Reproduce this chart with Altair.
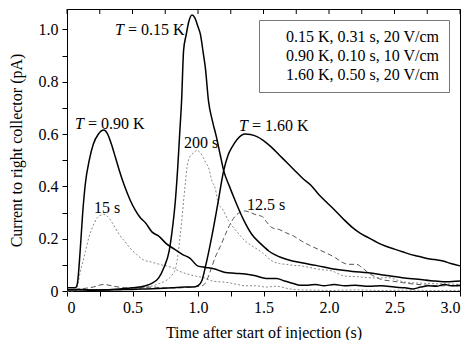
import altair as alt
import pandas as pd

FONT = "Liberation Serif"

legend_labels = ["0.15 K, 0.31 s, 20 V/cm", "0.90 K, 0.10 s, 10 V/cm", "1.60 K, 0.50 s, 20 V/cm"]

# T = 0.15 K (solid)
t_015 = [0.0, 0.1, 0.2, 0.3, 0.4, 0.5, 0.6, 0.65, 0.7, 0.74, 0.78, 0.8, 0.827, 0.845, 0.86, 0.875, 0.89, 0.91, 0.93, 0.954,
         0.975, 1.0, 1.018, 1.04, 1.056, 1.08, 1.11, 1.14, 1.17, 1.196, 1.24, 1.285, 1.35, 1.41, 1.48, 1.54, 1.64, 1.72,
         1.79, 1.9, 2.05, 2.18, 2.3, 2.43, 2.56, 2.68, 2.81, 2.9, 3.0]
v_015 = [0.005, 0.006, 0.004, 0.005, 0.008, 0.012, 0.02, 0.03, 0.05, 0.09, 0.153, 0.22, 0.344, 0.47, 0.6, 0.73, 0.92, 0.98,
         1.03, 1.055, 1.045, 1.01, 0.982, 0.91, 0.854, 0.727, 0.65, 0.59, 0.52, 0.46, 0.40, 0.344, 0.27, 0.217, 0.18, 0.153,
         0.127, 0.115, 0.108, 0.098, 0.083, 0.075, 0.07, 0.06, 0.051, 0.045, 0.038, 0.035, 0.038]

# T = 0.90 K (solid)
t_090 = [0.0, 0.05, 0.07, 0.08, 0.10, 0.12, 0.14, 0.17, 0.20, 0.24, 0.28, 0.31, 0.34, 0.37, 0.40, 0.44, 0.48, 0.52, 0.56,
         0.60, 0.65, 0.70, 0.76, 0.82, 0.88, 0.94, 1.00, 1.06, 1.12, 1.20, 1.28, 1.36, 1.44, 1.52, 1.60, 1.66, 1.72, 1.78,
         1.84, 1.90, 1.96, 2.04, 2.12, 2.20, 2.30, 2.40, 2.50, 2.58, 2.64, 2.70, 2.76, 2.82, 2.88, 2.94, 3.0]
v_090 = [0.012, 0.012, 0.015, 0.03, 0.15, 0.30, 0.41, 0.50, 0.56, 0.60, 0.615, 0.60, 0.56, 0.51, 0.46, 0.40, 0.35, 0.31,
         0.28, 0.26, 0.225, 0.21, 0.18, 0.16, 0.14, 0.125, 0.095, 0.09, 0.085, 0.072, 0.068, 0.065, 0.058, 0.048, 0.048,
         0.038, 0.03, 0.022, 0.022, 0.025, 0.02, 0.025, 0.02, 0.022, 0.018, 0.02, 0.015, 0.012, 0.008, 0.015, 0.02, 0.018,
         0.025, 0.02, 0.022]

# T = 1.60 K (solid)
t_160 = [0.0, 0.1, 0.2, 0.3, 0.4, 0.5, 0.6, 0.7, 0.8, 0.9, 0.96, 1.0, 1.03, 1.06, 1.09, 1.11, 1.15, 1.196, 1.23, 1.26, 1.30,
         1.36, 1.40, 1.45, 1.50, 1.56, 1.62, 1.68, 1.74, 1.80, 1.86, 1.92, 1.98, 2.05, 2.12, 2.18, 2.24, 2.30, 2.37, 2.43,
         2.50, 2.56, 2.62, 2.68, 2.74, 2.81, 2.87, 2.93, 3.0]
v_160 = [0.005, 0.005, 0.003, 0.004, 0.005, 0.006, 0.008, 0.01, 0.012, 0.015, 0.015, 0.02, 0.04, 0.10, 0.17, 0.22, 0.33,
         0.46, 0.52, 0.55, 0.58, 0.60, 0.598, 0.59, 0.575, 0.55, 0.52, 0.49, 0.46, 0.43, 0.405, 0.37, 0.34, 0.306, 0.27,
         0.242, 0.22, 0.204, 0.185, 0.172, 0.16, 0.15, 0.14, 0.133, 0.125, 0.12, 0.115, 0.105, 0.096]

# 15 s (dotted, 0.90 K)
t_15s = [0.0, 0.06, 0.08, 0.10, 0.12, 0.14, 0.17, 0.20, 0.23, 0.26, 0.28, 0.31, 0.34, 0.37, 0.40, 0.44, 0.48, 0.53, 0.58,
         0.65, 0.72, 0.80, 0.86, 0.92, 0.98, 1.05, 1.11, 1.17, 1.23, 1.30, 1.36, 1.44, 1.52, 1.60, 1.70, 1.80, 1.90, 2.0,
         2.2, 2.4, 2.6, 2.8, 3.0]
v_15s = [0.0, 0.0, 0.02, 0.07, 0.11, 0.15, 0.21, 0.25, 0.28, 0.29, 0.293, 0.285, 0.265, 0.24, 0.215, 0.19, 0.165, 0.14,
         0.12, 0.11, 0.10, 0.09, 0.075, 0.065, 0.057, 0.05, 0.038, 0.035, 0.032, 0.025, 0.02, 0.02, 0.015, 0.018, 0.008,
         0.004, 0.003, 0.002, 0.004, 0.002, 0.003, 0.002, 0.002]

# 200 s (dotted, 0.15 K)
t_200s = [0.0, 0.2, 0.4, 0.5, 0.6, 0.65, 0.70, 0.75, 0.80, 0.83, 0.85, 0.865, 0.88, 0.89, 0.905, 0.916, 0.935, 0.954,
          0.975, 0.992, 1.015, 1.04, 1.06, 1.08, 1.107, 1.13, 1.158, 1.18, 1.234, 1.30, 1.36, 1.42, 1.49, 1.565, 1.62,
          1.67, 1.73, 1.79, 1.85, 1.92, 2.02, 2.12, 2.2, 2.3, 2.38, 2.455, 2.53, 2.61, 2.7, 2.81, 2.9, 3.0]
v_200s = [0.003, 0.004, 0.005, 0.008, 0.015, 0.019, 0.028, 0.038, 0.06, 0.089, 0.15, 0.217, 0.29, 0.344, 0.42, 0.472,
          0.51, 0.523, 0.532, 0.538, 0.53, 0.51, 0.49, 0.472, 0.42, 0.395, 0.33, 0.318, 0.268, 0.225, 0.191, 0.17, 0.147,
          0.115, 0.105, 0.102, 0.098, 0.096, 0.09, 0.083, 0.077, 0.057, 0.055, 0.051, 0.05, 0.051, 0.04, 0.032, 0.03,
          0.028, 0.027, 0.025]

# 12.5 s (dashed, 1.60 K)
t_125s = [0.0, 0.1, 0.2, 0.28, 0.36, 0.45, 0.55, 0.65, 0.75, 0.85, 0.95, 1.0, 1.03, 1.056, 1.09, 1.13, 1.17, 1.21, 1.25,
          1.285, 1.32, 1.36, 1.40, 1.45, 1.49, 1.53, 1.565, 1.62, 1.67, 1.73, 1.79, 1.85, 1.92, 1.98, 2.05, 2.10, 2.15,
          2.21, 2.25, 2.30, 2.35, 2.40, 2.48, 2.56, 2.62, 2.68, 2.76, 2.84, 2.92, 3.0]
v_125s = [0.005, 0.008, 0.015, 0.025, 0.018, 0.012, 0.012, 0.015, 0.012, 0.012, 0.015, 0.018, 0.02, 0.03, 0.07, 0.127,
          0.17, 0.217, 0.26, 0.287, 0.30, 0.306, 0.30, 0.29, 0.285, 0.26, 0.242, 0.235, 0.223, 0.21, 0.191, 0.175, 0.159,
          0.145, 0.127, 0.11, 0.102, 0.102, 0.09, 0.07, 0.055, 0.044, 0.038, 0.032, 0.028, 0.025, 0.022, 0.02, 0.02, 0.019]

# annotations
ann_T_rest = ["= 0.15 K", "= 0.90 K", "= 1.60 K"]
ann_T_t = [0.366, 0.061, 1.313]
ann_T_v = [0.998, 0.639, 0.631]
ann_plain = ["200 s", "15 s", "12.5 s"]
ann_plain_t = [0.893, 0.206, 1.374]
ann_plain_v = [0.566, 0.317, 0.329]

x_ticks = [0, 0.25, 0.5, 0.75, 1.0, 1.25, 1.5, 1.75, 2.0, 2.25, 2.5, 2.75, 3.0]
y_ticks = [0, 0.1, 0.2, 0.3, 0.4, 0.5, 0.6, 0.7, 0.8, 0.9, 1.0]


def frame(t, v, name):
    return pd.DataFrame({"t": t, "v": v, "curve": name})


solid_df = pd.concat([frame(t_015, v_015, legend_labels[0]),
                      frame(t_090, v_090, legend_labels[1]),
                      frame(t_160, v_160, legend_labels[2])])
dotted_df = pd.concat([frame(t_15s, v_15s, "15 s"), frame(t_200s, v_200s, "200 s")])
dashed_df = frame(t_125s, v_125s, "12.5 s")
annT_df = pd.DataFrame({"t": ann_T_t, "v": ann_T_v, "rest": ann_T_rest})
annP_df = pd.DataFrame({"t": ann_plain_t, "v": ann_plain_v, "label": ann_plain})
xtick_df = pd.DataFrame({"t": x_ticks})

xscale = alt.Scale(domain=[0, 3], nice=False)
yscale = alt.Scale(domain=[0, 1.078], nice=False)

axis_style = dict(labelFont=FONT, titleFont=FONT, labelFontSize=16, titleFontSize=16, titleFontWeight="normal",
                  labelColor="black", titleColor="black", tickColor="black", domainColor="black",
                  grid=False, tickSize=5)

x_axis = alt.Axis(orient="bottom", values=x_ticks, title="Time after start of injection (s)",
                  labelExpr="abs(datum.value*2 - round(datum.value*2)) < 0.001 ? (datum.value == 0 ? '0' : format(datum.value, '.1f')) : ''",
                  labelPadding=3, titlePadding=9, **axis_style)
y_axis = alt.Axis(orient="left", values=y_ticks, title="Current to right collector (pA)",
                  labelExpr="abs(datum.value*5 - round(datum.value*5)) < 0.001 ? (datum.value == 0 ? '0' : format(datum.value, '.1f')) : ''",
                  labelPadding=4, titlePadding=14, **axis_style)

X = alt.X("t:Q", scale=xscale, axis=x_axis)
Y = alt.Y("v:Q", scale=yscale, axis=y_axis)

solid = alt.Chart(solid_df).mark_line(strokeWidth=1.5, interpolate="monotone").encode(
    x=X, y=Y,
    color=alt.Color("curve:N", scale=alt.Scale(domain=legend_labels, range=["black", "black", "black"]),
                    legend=alt.Legend(title=None, orient="top-right", offset=11, symbolSize=0, symbolOpacity=0,
                                      symbolStrokeWidth=0, labelOffset=2, labelFont=FONT, labelFontSize=16,
                                      labelColor="black", strokeColor="#777", fillColor="white", padding=9,
                                      rowPadding=3, labelLimit=300)),
    detail="curve:N",
)

dotted = alt.Chart(dotted_df).mark_line(strokeWidth=1, strokeDash=[2, 2], color="#8a8a8a",
                                        interpolate="monotone").encode(x=X, y=Y, detail="curve:N")

dashed = alt.Chart(dashed_df).mark_line(strokeWidth=1, strokeDash=[5, 3], color="#555",
                                        interpolate="monotone").encode(x=X, y=Y)

t_italic = alt.Chart(annT_df).mark_text(align="left", baseline="middle", font=FONT, fontSize=16,
                                        fontStyle="italic", color="black").encode(x=X, y=Y, text=alt.value("T"))

t_rest = alt.Chart(annT_df).mark_text(align="left", baseline="middle", font=FONT, fontSize=16, dx=13,
                                      color="black").encode(x=X, y=Y, text="rest:N")

plain = alt.Chart(annP_df).mark_text(align="left", baseline="middle", font=FONT, fontSize=16,
                                     color="black").encode(x=X, y=Y, text="label:N")

# inward tick marks along the top frame, at the x tick values
top_ticks = alt.Chart(xtick_df).mark_rule(color="black", strokeWidth=1).encode(
    x=X, y=alt.value(0), y2=alt.value(5))

chart = alt.layer(dotted, dashed, solid, t_italic, t_rest, plain, top_ticks).properties(
    width=393, height=282, padding={"left": 0, "top": 0, "right": 0, "bottom": 0}
).configure(font=FONT).configure_view(stroke="black", strokeWidth=1).configure_axis(
    labelFont=FONT, titleFont=FONT
)

chart.save("out.html", embed_options={"renderer": "svg", "actions": False})
